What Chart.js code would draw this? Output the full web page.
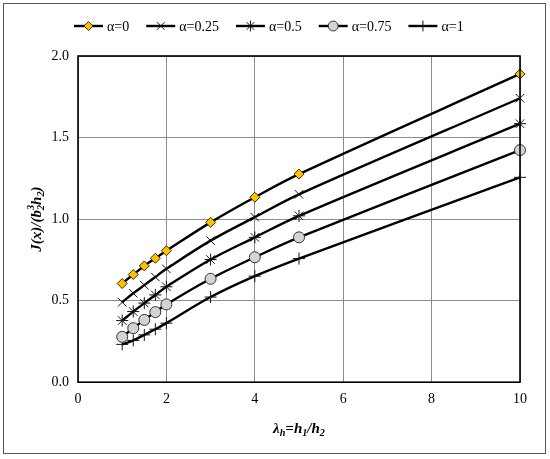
<!DOCTYPE html>
<html>
<head>
<meta charset="utf-8">
<script src="https://cdn.jsdelivr.net/npm/chart.js@4.4.0/dist/chart.umd.min.js"></script>
<style>
  html, body { margin: 0; padding: 0; background: #fff; }
  #wrap { position: relative; width: 550px; height: 459px; }
</style>
</head>
<body>
<div id="wrap"><canvas id="chart"></canvas></div>
<script>
// --- data ---
const lambdaH = [1, 1.25, 1.5, 1.75, 2, 3, 4, 5, 10];
const alphaLabels = ['α=0', 'α=0.25', 'α=0.5', 'α=0.75', 'α=1'];
const jAlpha0   = [0.605, 0.660, 0.713, 0.760, 0.806, 0.980, 1.134, 1.276, 1.890];
const jAlpha025 = [0.490, 0.545, 0.595, 0.645, 0.695, 0.868, 1.012, 1.152, 1.741];
const jAlpha05  = [0.378, 0.433, 0.485, 0.535, 0.585, 0.752, 0.888, 1.020, 1.585];
const jAlpha075 = [0.278, 0.331, 0.382, 0.430, 0.477, 0.634, 0.766, 0.888, 1.423];
const jAlpha1   = [0.232, 0.256, 0.290, 0.325, 0.362, 0.522, 0.650, 0.758, 1.256];
const xTicks = [0, 2, 4, 6, 8, 10];
const yTicks = [0, 0.5, 1.0, 1.5, 2.0];

const serif = "'Liberation Serif', 'Times New Roman', serif";

const markers = [
    { style: 'rectRot',  radius: 5,   bg: '#FFC000', border: '#3a3000', bw: 1 },
    { style: 'crossRot', radius: 6,   bg: '#000',    border: '#111',    bw: 1 },
    { style: 'star',     radius: 6,   bg: '#000',    border: '#111',    bw: 1 },
    { style: 'circle',   radius: 5.5, bg: '#D4D4D4', border: '#333',    bw: 1 },
    { style: 'cross',    radius: 6,   bg: '#000',    border: '#111',    bw: 1 }
];

const series = [jAlpha0, jAlpha025, jAlpha05, jAlpha075, jAlpha1];

const datasets = series.map((vals, i) => ({
    label: alphaLabels[i],
    data: lambdaH.map((x, k) => ({ x: x, y: vals[k] })),
    borderColor: '#000',
    borderWidth: 2.4,
    tension: 0.35,
    pointStyle: markers[i].style,
    pointRadius: markers[i].radius,
    pointBackgroundColor: markers[i].bg,
    pointBorderColor: markers[i].border,
    pointBorderWidth: markers[i].bw,
    clip: false
}));

// draw a run of text pieces (normal / sub / sup) centred on cx,cy
function drawRich(ctx, parts, cx, cy, size, rotate) {
    ctx.save();
    ctx.translate(cx, cy);
    if (rotate) ctx.rotate(-Math.PI / 2);
    ctx.textBaseline = 'middle';
    ctx.fillStyle = '#000';
    let total = 0;
    parts.forEach(p => {
        ctx.font = 'italic bold ' + (p.small ? size * 0.68 : size) + 'px ' + serif;
        p.w = ctx.measureText(p.t).width;
        if (!p.stack) total += p.w;
    });
    let x = -total / 2;
    let lastW = 0;
    parts.forEach(p => {
        ctx.font = 'italic bold ' + (p.small ? size * 0.68 : size) + 'px ' + serif;
        ctx.textAlign = 'left';
        const dy = p.sub ? size * 0.3 : (p.sup ? -size * 0.35 : 0);
        if (p.stack) {
            ctx.fillText(p.t, x - lastW, dy);
        } else {
            ctx.fillText(p.t, x, dy);
            lastW = p.w;
            x += p.w;
        }
    });
    ctx.restore();
}

const decorPlugin = {
    id: 'decor',
    afterDraw(chart) {
        const ctx = chart.ctx;
        const a = chart.chartArea;
        // plot box
        ctx.save();
        ctx.strokeStyle = '#000';
        ctx.lineWidth = 1.6;
        ctx.strokeRect(a.left, a.top, a.right - a.left, a.bottom - a.top);
        // outer frame
        ctx.strokeStyle = '#555';
        ctx.lineWidth = 1;
        ctx.strokeRect(3.5, 3.5, 542, 450);
        ctx.restore();

        // legend: line with marker, then label
        ctx.save();
        let lx = 74;
        const ly = 26;
        const lineLen = 29;
        ctx.font = '14px ' + serif;
        ctx.textBaseline = 'middle';
        ctx.textAlign = 'left';
        datasets.forEach((ds, i) => {
            ctx.strokeStyle = '#000';
            ctx.lineWidth = 2.4;
            ctx.beginPath();
            ctx.moveTo(lx, ly);
            ctx.lineTo(lx + lineLen, ly);
            ctx.stroke();
            ctx.fillStyle = markers[i].bg;
            ctx.strokeStyle = markers[i].border;
            ctx.lineWidth = markers[i].bw;
            Chart.helpers.drawPoint(ctx, {
                pointStyle: markers[i].style,
                radius: markers[i].radius * 0.9,
                rotation: 0,
                borderWidth: markers[i].bw
            }, lx + lineLen / 2, ly);
            ctx.fillStyle = '#000';
            ctx.fillText(ds.label, lx + lineLen + 4, ly + 1);
            lx += lineLen + 4 + ctx.measureText(ds.label).width + 17;
        });
        ctx.restore();

        // axis titles
        drawRich(ctx, [
            { t: 'λ' }, { t: 'h', small: true, sub: true },
            { t: '=h' }, { t: '1', small: true, sub: true },
            { t: '/h' }, { t: '2', small: true, sub: true }
        ], (a.left + a.right) / 2, 429, 15, false);

        drawRich(ctx, [
            { t: 'J(x)/(b' }, { t: '2', small: true, sub: true },
            { t: '3', small: true, sup: true, stack: true },
            { t: 'h' }, { t: '2', small: true, sub: true }, { t: ')' }
        ], 37, (a.top + a.bottom) / 2, 15, true);
    }
};

new Chart(document.getElementById('chart'), {
    type: 'line',
    data: { datasets: datasets },
    options: {
        responsive: true,
        maintainAspectRatio: false,
        animation: false,
        layout: { padding: { top: 56, right: 30, bottom: 42, left: 0 } },
        plugins: {
            legend: { display: false },
            tooltip: { enabled: false }
        },
        scales: {
            x: {
                type: 'linear',
                min: 0,
                max: 10,
                afterBuildTicks: s => { s.ticks = xTicks.map(v => ({ value: v })); },
                ticks: {
                    color: '#000',
                    font: { family: serif, size: 14 },
                    padding: 9,
                    maxRotation: 0
                },
                grid: { color: '#8c8c8c', lineWidth: 1, drawTicks: false },
                border: { display: false }
            },
            y: {
                min: 0,
                max: 2,
                afterBuildTicks: s => { s.ticks = yTicks.map(v => ({ value: v })); },
                afterFit: s => { s.width = 78; },
                ticks: {
                    color: '#000',
                    font: { family: serif, size: 14 },
                    padding: 9,
                    callback: v => v.toFixed(1)
                },
                grid: { color: '#8c8c8c', lineWidth: 1, drawTicks: false },
                border: { display: false }
            }
        }
    },
    plugins: [decorPlugin]
});
</script>
</body>
</html>
